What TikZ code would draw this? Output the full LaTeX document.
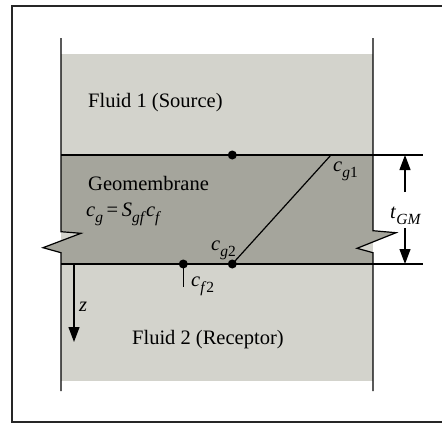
\documentclass[tikz,border=0pt]{standalone}
\usepackage{fontspec}
\setmainfont{Liberation Serif}
\usetikzlibrary{arrows.meta}
\definecolor{fluidgray}{RGB}{211,211,204}
\definecolor{gmgray}{RGB}{165,165,156}
\newcommand\subsz{\fontsize{15.5}{16}\selectfont}
\newcommand\vsub[2]{\textit{#1}\raisebox{-0.3em}{\subsz\textit{#2}}}
\begin{document}
\begin{tikzpicture}[x=1pt,y=-1pt,
  line/.style={draw=black,line width=1.2pt},
  dot/.style={circle,fill=black,inner sep=0pt,minimum size=9pt},
  lbl/.style={inner sep=0pt,font=\fontsize{20.5}{22}\selectfont},
  tip/.style={-{Triangle[length=15pt,width=11pt]}}]
\useasboundingbox (0,0) rectangle (442,423);
% frame
\draw[line width=1.2pt,draw=black!85] (12,6) rectangle (445,422);
% fluids
\fill[fluidgray] (61,54) rectangle (373,381);
% geomembrane
\fill[gmgray] (61,155) -- (373,155) -- (373,230.7) -- (396,232.7) -- (357,248.3) -- (373,252.7)
  -- (373,264) -- (61,264) -- (61,252.7) -- (43,247.7) -- (81,233.3) -- (61,231.7) -- cycle;
% walls with break marks
\draw[line] (61,38) -- (61,231.7) -- (81,233.3) -- (43,247.7) -- (61,252.7) -- (61,391);
\draw[line] (373,38) -- (373,230.7) -- (396,232.7) -- (357,248.3) -- (373,252.7) -- (373,391);
% interfaces
\coordinate (tl) at (61,155);
\coordinate (tr) at (423,155);
\coordinate (bl) at (61,264);
\coordinate (br) at (423,264);
\draw[line] (tl) -- (tr);
\draw[line] (bl) -- (br);
% dots
\node[dot] (dtop) at (232.3,155) {};
\node[dot] (dg2) at (232.3,264) {};
\node[dot] (df2) at (183.3,264) {};
\coordinate (cg1end) at (331,155);
\coordinate (stem) at (183.3,287);
\draw[line] (dg2.center) -- (cg1end);
\draw[line] (df2.center) -- (stem);
% z axis
\coordinate (z0) at (74,264);
\coordinate (z1) at (74,342);
\draw[line,tip] (z0) -- (z1);
% thickness
\coordinate (t0) at (405,192);
\coordinate (t1) at (405,155);
\coordinate (t2) at (405,228);
\coordinate (t3) at (405,264);
\draw[line,tip] (t0) -- (t1);
\draw[line,tip] (t2) -- (t3);
% labels
\node[lbl,anchor=west] (f1) at (88,102.5) {Fluid 1 (Source)};
\node[lbl,anchor=base west] (gm) at (88,190) {Geomembrane};
\node[lbl,anchor=base west] (eq) at (86,216) {\vsub{c}{g}\hspace{0.18em}=\hspace{0.18em}\vsub{S}{gf}\vsub{c}{f}};
\node[lbl,anchor=base west] (f2) at (132,344) {Fluid 2 (Receptor)};
\node[lbl,anchor=base west] (lcg1) at (333,171.5) {\vsub{c}{g}\raisebox{-0.3em}{\subsz 1}};
\node[lbl,anchor=base west] (lcg2) at (211,250) {\vsub{c}{g}\raisebox{-0.3em}{\subsz 2}};
\node[lbl,anchor=base west] (lcf2) at (191,286) {\vsub{c}{f}\raisebox{-0.3em}{\subsz 2}};
\node[lbl,anchor=base west] (lz) at (79,311.5) {\textit{z}};
\node[lbl,anchor=base west] (ltgm) at (390,218) {\vsub{t}{GM}};
\end{tikzpicture}
\end{document}
